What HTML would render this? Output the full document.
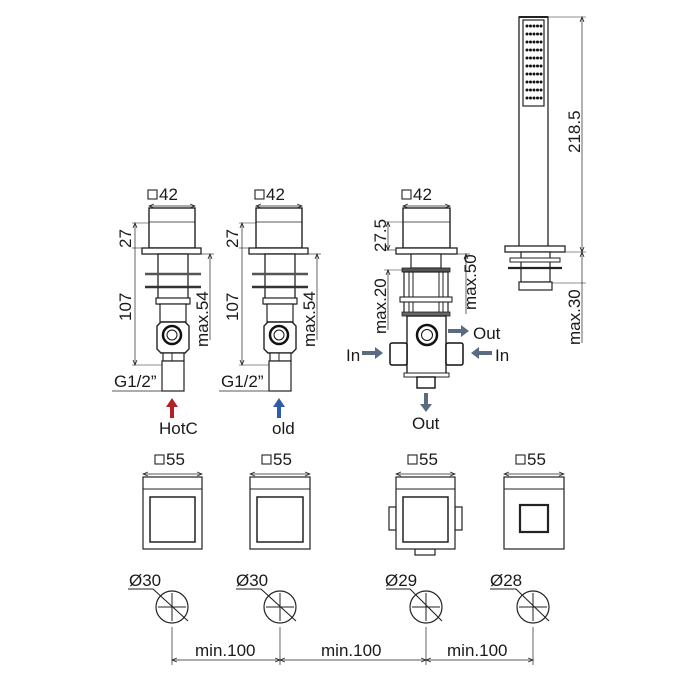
<!DOCTYPE html>
<html><head><meta charset="utf-8"><style>
html,body{margin:0;padding:0;background:#fff}
svg{display:block}
text{font-family:"Liberation Sans",sans-serif;fill:#1a1a1a;font-size:17px}
</style></head><body>
<svg width="700" height="700" viewBox="0 0 700 700" xmlns="http://www.w3.org/2000/svg">
<defs>
<marker id="ah" markerWidth="6" markerHeight="6" refX="5" refY="3" orient="auto-start-reverse" markerUnits="userSpaceOnUse"><path d="M0,1 L5,3 L0,5" fill="none" stroke="#222" stroke-width="0.8"/></marker>
<g id="valve">
 <rect x="149" y="208" width="46" height="40" fill="#fff" stroke="#222" stroke-width="1.4"/>
 <line x1="149" y1="222" x2="195" y2="222" stroke="#222" stroke-width="0.8"/>
 <rect x="142" y="248" width="59" height="6" fill="#fff" stroke="#222" stroke-width="1.3"/>
 <rect x="158" y="254" width="30" height="50" fill="#fff" stroke="#222" stroke-width="1.3"/>
 <line x1="145" y1="274" x2="201" y2="274" stroke="#555" stroke-width="2.5"/>
 <line x1="145" y1="287" x2="201" y2="287" stroke="#333" stroke-width="2.5"/>
 <rect x="156" y="298" width="34" height="6" fill="#fff" stroke="#222" stroke-width="1.2"/>
 <rect x="160" y="304" width="26" height="18" fill="#fff" stroke="#222" stroke-width="1.2"/>
 <path d="M161,322 H185 L189,326 V349 L185,353 H161 L157,349 V326 Z" fill="#fff" stroke="#222" stroke-width="1.4"/>
 <circle cx="172" cy="335" r="9" fill="#fff" stroke="#111" stroke-width="2.5"/>
 <circle cx="172" cy="335" r="5" fill="#fff" stroke="#111" stroke-width="1"/>
 <rect x="163" y="353" width="21" height="8" fill="#fff" stroke="#222" stroke-width="1.2"/>
 <line x1="172" y1="353" x2="172" y2="361" stroke="#222" stroke-width="1"/>
 <rect x="162" y="361" width="22" height="30" fill="#fff" stroke="#222" stroke-width="1.2"/>
 <line x1="149" y1="206" x2="195" y2="206" stroke="#222" stroke-width="0.7" marker-start="url(#ah)" marker-end="url(#ah)"/>
 <rect x="148" y="190" width="9" height="9" fill="none" stroke="#222" stroke-width="1.1"/>
 <text x="159" y="200">42</text>
 <line x1="132" y1="223" x2="149" y2="223" stroke="#222" stroke-width="0.6"/>
 <line x1="132" y1="248" x2="142" y2="248" stroke="#222" stroke-width="0.6"/>
 <line x1="135" y1="223" x2="135" y2="365" stroke="#222" stroke-width="0.7" marker-start="url(#ah)" marker-end="url(#ah)"/>
 <line x1="132" y1="365" x2="162" y2="365" stroke="#222" stroke-width="0.6"/>
 <text transform="translate(131,248) rotate(-90)">27</text>
 <text transform="translate(131,321) rotate(-90)">107</text>
 <line x1="201" y1="254" x2="214" y2="254" stroke="#222" stroke-width="0.6"/>
 <line x1="210" y1="254" x2="210" y2="340" stroke="#222" stroke-width="0.7" marker-start="url(#ah)"/>
 <text transform="translate(208,347) rotate(-90)">max.54</text>
 <text x="114" y="387">G1/2”</text>
 <line x1="112" y1="391" x2="184" y2="391" stroke="#222" stroke-width="0.7"/>
</g>
</defs>

<use href="#valve"/>
<use href="#valve" transform="translate(107,0)"/>

<path d="M172,398 L166,407 H170 V418 H174 V407 H178 Z" fill="#b3202a"/>
<text x="159" y="434">HotC</text>
<path d="M279,398 L273,407 H277 V418 H281 V407 H285 Z" fill="#2f5ca8"/>
<text x="272" y="434">old</text>

<line x1="403" y1="206" x2="450" y2="206" stroke="#222" stroke-width="0.7" marker-start="url(#ah)" marker-end="url(#ah)"/>
<rect x="402" y="190" width="9" height="9" fill="none" stroke="#222" stroke-width="1.1"/>
<text x="413" y="200">42</text>
<rect x="403" y="208" width="47" height="40" fill="#fff" stroke="#222" stroke-width="1.4"/>
<line x1="403" y1="222" x2="450" y2="222" stroke="#222" stroke-width="0.8"/>
<rect x="396" y="248" width="61" height="6" fill="#fff" stroke="#222" stroke-width="1.3"/>
<rect x="411" y="254" width="30" height="14" fill="#fff" stroke="#222" stroke-width="1.2"/>
<rect x="402" y="268" width="48" height="4" fill="#555" stroke="#222" stroke-width="0.8"/>
<rect x="404" y="272" width="44" height="43" fill="#fff" stroke="#222" stroke-width="1.2"/>
<line x1="409" y1="272" x2="409" y2="315" stroke="#222" stroke-width="1"/>
<line x1="443" y1="272" x2="443" y2="315" stroke="#222" stroke-width="1"/>
<line x1="413" y1="272" x2="413" y2="315" stroke="#222" stroke-width="1"/>
<line x1="439" y1="272" x2="439" y2="315" stroke="#222" stroke-width="1"/>
<rect x="400" y="297" width="52" height="5" fill="#fff" stroke="#222" stroke-width="1.1"/>
<rect x="402" y="312" width="48" height="4" fill="#666" stroke="#222" stroke-width="0.8"/>
<rect x="407" y="316" width="39" height="59" fill="#fff" stroke="#222" stroke-width="1.4"/>
<circle cx="427" cy="335" r="10" fill="#fff" stroke="#111" stroke-width="2.5"/>
<circle cx="427" cy="335" r="5.5" fill="#fff" stroke="#111" stroke-width="1"/>
<rect x="390" y="343" width="17" height="22" rx="2" fill="#fff" stroke="#111" stroke-width="1.5"/>
<rect x="446" y="343" width="17" height="22" rx="2" fill="#fff" stroke="#111" stroke-width="1.5"/>
<rect x="404" y="373" width="45" height="4" fill="#fff" stroke="#222" stroke-width="1"/>
<rect x="417" y="377" width="18" height="11" fill="#fff" stroke="#111" stroke-width="1.4"/>
<line x1="384" y1="222" x2="403" y2="222" stroke="#222" stroke-width="0.6"/>
<line x1="384" y1="250" x2="396" y2="250" stroke="#222" stroke-width="0.6"/>
<line x1="388" y1="222" x2="388" y2="250" stroke="#222" stroke-width="0.7" marker-start="url(#ah)" marker-end="url(#ah)"/>
<text transform="translate(386,252) rotate(-90)">27.5</text>
<line x1="384" y1="270" x2="402" y2="270" stroke="#222" stroke-width="0.6"/>
<line x1="388" y1="270" x2="388" y2="330" stroke="#222" stroke-width="0.7" marker-start="url(#ah)"/>
<text transform="translate(386,334) rotate(-90)">max.20</text>
<line x1="457" y1="254" x2="470" y2="254" stroke="#222" stroke-width="0.6"/>
<line x1="466" y1="254" x2="466" y2="314" stroke="#222" stroke-width="0.7" marker-start="url(#ah)"/>
<text transform="translate(476,310) rotate(-90)">max.50</text>
<g fill="#5a6b80">
<path d="M448,329 H461 V325 L469,331 L461,337 V333 H448 Z"/>
<path d="M362,351 H375 V347 L383,353 L375,359 V355 H362 Z"/>
<path d="M492,351 H479 V347 L471,353 L479,359 V355 H492 Z"/>
<path d="M424,393 V404 H420 L426,412 L432,404 H428 V393 Z"/>
</g>
<text x="473" y="339">Out</text>
<text x="346" y="361">In</text>
<text x="495" y="361">In</text>
<text x="412" y="429">Out</text>

<rect x="519" y="17" width="29" height="231" fill="#fff" stroke="#222" stroke-width="1.3"/>
<line x1="519" y1="17" x2="548" y2="17" stroke="#222" stroke-width="2"/>
<rect x="523" y="20" width="21" height="86" fill="#fff" stroke="#222" stroke-width="1.2"/>
<g fill="#111">
<g id="dotrow"><circle cx="527" cy="26" r="1.5"/><circle cx="530.5" cy="26" r="1.5"/><circle cx="534" cy="26" r="1.5"/><circle cx="537.5" cy="26" r="1.5"/><circle cx="541" cy="26" r="1.5"/></g>
<use href="#dotrow" y="8"/><use href="#dotrow" y="16"/><use href="#dotrow" y="24"/><use href="#dotrow" y="32"/><use href="#dotrow" y="40"/><use href="#dotrow" y="48"/><use href="#dotrow" y="56"/><use href="#dotrow" y="64"/><use href="#dotrow" y="72"/>
</g>
<line x1="548" y1="17" x2="586" y2="17" stroke="#222" stroke-width="0.6"/>
<line x1="582" y1="17" x2="582" y2="252" stroke="#222" stroke-width="0.7" marker-start="url(#ah)" marker-end="url(#ah)"/>
<text transform="translate(580,153) rotate(-90)">218.5</text>
<rect x="505" y="246" width="60" height="6" fill="#fff" stroke="#222" stroke-width="1.3"/>
<line x1="565" y1="252" x2="586" y2="252" stroke="#222" stroke-width="0.6"/>
<rect x="521" y="252" width="29" height="30" fill="#fff" stroke="#222" stroke-width="1.2"/>
<rect x="510" y="258" width="50" height="4" fill="#fff" stroke="#222" stroke-width="1"/>
<line x1="508" y1="268" x2="562" y2="268" stroke="#222" stroke-width="2.2"/>
<rect x="519" y="282" width="33" height="8" fill="#fff" stroke="#222" stroke-width="1.2"/>
<line x1="552" y1="283" x2="586" y2="283" stroke="#222" stroke-width="0.6"/>
<line x1="582" y1="252" x2="582" y2="343" stroke="#222" stroke-width="0.7" marker-start="url(#ah)"/>
<text transform="translate(580,345) rotate(-90)">max.30</text>

<g stroke="#222" fill="#fff">
<rect x="143" y="477" width="59" height="72" stroke-width="1.2"/>
<line x1="143" y1="489" x2="202" y2="489" stroke-width="0.9"/>
<rect x="150" y="497" width="45" height="45" stroke-width="1.5"/>
<rect x="250" y="477" width="60" height="72" stroke-width="1.2"/>
<line x1="250" y1="489" x2="310" y2="489" stroke-width="0.9"/>
<rect x="257" y="497" width="46" height="45" stroke-width="1.5"/>
<rect x="389" y="507" width="7" height="23" stroke-width="1.2"/>
<rect x="455" y="507" width="7" height="23" stroke-width="1.2"/>
<rect x="415" y="549" width="20" height="6" stroke-width="1.2"/>
<rect x="396" y="477" width="59" height="72" stroke-width="1.2"/>
<line x1="396" y1="489" x2="455" y2="489" stroke-width="0.9"/>
<rect x="403" y="497" width="45" height="45" stroke-width="1.5"/>
<rect x="504" y="477" width="60" height="72" stroke-width="1.2"/>
<line x1="504" y1="489" x2="564" y2="489" stroke-width="0.9"/>
<rect x="520" y="505" width="28" height="27" stroke-width="2.2"/>
</g>
<g stroke="#222" stroke-width="0.7">
<line x1="143" y1="474" x2="202" y2="474" marker-start="url(#ah)" marker-end="url(#ah)"/>
<line x1="250" y1="474" x2="310" y2="474" marker-start="url(#ah)" marker-end="url(#ah)"/>
<line x1="396" y1="474" x2="455" y2="474" marker-start="url(#ah)" marker-end="url(#ah)"/>
<line x1="504" y1="474" x2="564" y2="474" marker-start="url(#ah)" marker-end="url(#ah)"/>
</g>
<g fill="none" stroke="#222" stroke-width="1.1">
<rect x="155" y="455" width="9" height="9"/><rect x="262" y="455" width="9" height="9"/>
<rect x="408" y="455" width="9" height="9"/><rect x="516" y="455" width="9" height="9"/>
</g>
<text x="166" y="465">55</text>
<text x="273" y="465">55</text>
<text x="419" y="465">55</text>
<text x="527" y="465">55</text>

<g fill="none" stroke="#222" stroke-width="1.2">
<circle cx="172" cy="607" r="16"/><circle cx="280" cy="607" r="16"/>
<circle cx="426" cy="607" r="16"/><circle cx="533" cy="607" r="16"/>
</g>
<g stroke="#222" stroke-width="1">
<line x1="172" y1="593" x2="172" y2="621"/><line x1="158" y1="607" x2="186" y2="607"/>
<line x1="280" y1="593" x2="280" y2="621"/><line x1="266" y1="607" x2="294" y2="607"/>
<line x1="426" y1="593" x2="426" y2="621"/><line x1="412" y1="607" x2="440" y2="607"/>
<line x1="533" y1="593" x2="533" y2="621"/><line x1="519" y1="607" x2="547" y2="607"/>
</g>
<g fill="none" stroke="#222" stroke-width="1.1">
<polyline points="128,589 153,589 188,621"/>
<polyline points="236,589 261,589 296,621"/>
<polyline points="386,589 410,589 442,621"/>
<polyline points="490,589 516,589 549,621"/>
</g>
<text x="129" y="586">Ø30</text>
<text x="236" y="586">Ø30</text>
<text x="385" y="586">Ø29</text>
<text x="490" y="586">Ø28</text>

<g stroke="#222" stroke-width="0.7">
<line x1="172" y1="627" x2="172" y2="665"/><line x1="280" y1="627" x2="280" y2="665"/>
<line x1="426" y1="627" x2="426" y2="665"/><line x1="533" y1="627" x2="533" y2="665"/>
<line x1="172" y1="660" x2="280" y2="660" marker-start="url(#ah)" marker-end="url(#ah)"/>
<line x1="280" y1="660" x2="426" y2="660" marker-start="url(#ah)" marker-end="url(#ah)"/>
<line x1="426" y1="660" x2="533" y2="660" marker-start="url(#ah)" marker-end="url(#ah)"/>
</g>
<text x="195" y="656">min.100</text>
<text x="321" y="656">min.100</text>
<text x="447" y="656">min.100</text>
</svg>
</body></html>
